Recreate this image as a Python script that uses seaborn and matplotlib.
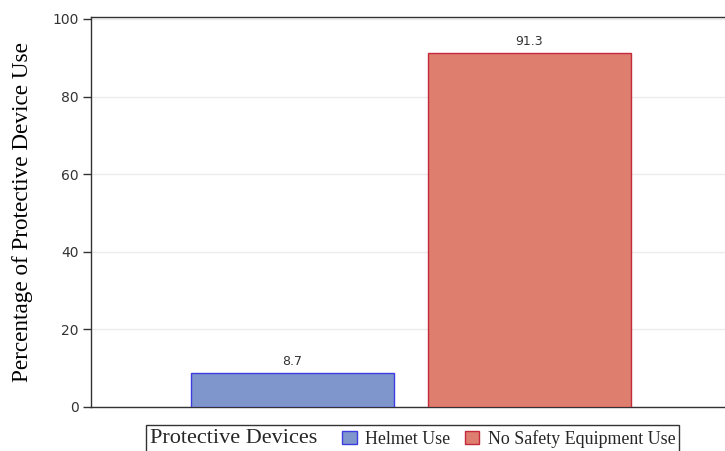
import matplotlib
matplotlib.use("Agg")
import matplotlib.pyplot as plt
import seaborn as sns
import pandas as pd
from matplotlib.patches import Patch
from matplotlib.offsetbox import HPacker

categories = ["Helmet Use", "No Safety Equipment Use"]
values = [8.7, 91.3]
value_labels = ["8.7", "91.3"]
yticks = [0, 20, 40, 60, 80, 100]

fills = ["#7f96cc", "#de7e6f"]
edges = ["#3c3ce0", "#c42a3c"]

sns.set_theme(style="white")
plt.rcParams["font.family"] = ["DejaVu Sans"]

df = pd.DataFrame({"device": categories, "pct": values})

fig = plt.figure(figsize=(7.25, 4.51), dpi=100)
ax = fig.add_axes([91/725, 1 - 407/451, 1 - 91/725, (407 - 17)/451])

sns.barplot(data=df, x="device", y="pct", hue="device", palette=fills,
            width=0.857, dodge=False, legend=False, ax=ax, saturation=1)
for patch, ec in zip(ax.patches, edges):
    patch.set_edgecolor(ec)
    patch.set_linewidth(1.0)
    patch.set_zorder(3)

for i, (v, lab) in enumerate(zip(values, value_labels)):
    ax.annotate(lab, xy=(i, v), xytext=(0, 3.5), textcoords="offset points",
                ha="center", va="bottom", fontsize=9, color="#333333")

ax.set_xlim(-0.85, 1.825)
ax.set_ylim(0, 100.5)
ax.set_yticks(yticks)
ax.set_yticklabels([str(t) for t in yticks], fontsize=10, color="#333333")
ax.set_xticks([])
ax.set_xlabel("")
ax.set_ylabel("Percentage of Protective Device Use", family=["Liberation Serif"],
              fontsize=16.7, color="black", labelpad=14)
ax.yaxis.grid(True, color="#ebebeb", linewidth=1, zorder=0)
ax.set_axisbelow(True)
ax.tick_params(axis="y", which="major", direction="out", length=6, width=1,
               color="#333333", left=True, pad=3)
for s in ["left", "top", "bottom"]:
    ax.spines[s].set_color("#333333")
    ax.spines[s].set_linewidth(1)
ax.spines["right"].set_visible(False)

handles = [Patch(facecolor=f, edgecolor=e, linewidth=1) for f, e in zip(fills, edges)]
leg = fig.legend(handles, categories, ncol=2, title="Protective Devices",
                 loc="upper left", bbox_to_anchor=(146/725, 1 - 425/451),
                 frameon=True, fancybox=False, edgecolor="black",
                 prop={"family": "Liberation Serif", "size": 12.9},
                 handlelength=0.8, handleheight=0.8, handletextpad=0.45,
                 columnspacing=0.85, borderpad=0.25, borderaxespad=0)
leg.get_title().set_fontfamily("Liberation Serif")
leg.get_title().set_fontsize(16)
leg.get_frame().set_linewidth(1)
leg._legend_box.__class__ = HPacker
leg._legend_box.sep = 18
leg._legend_box.align = "center"
leg._legend_box.pad = 3

fig.savefig("out.png", dpi=100)
